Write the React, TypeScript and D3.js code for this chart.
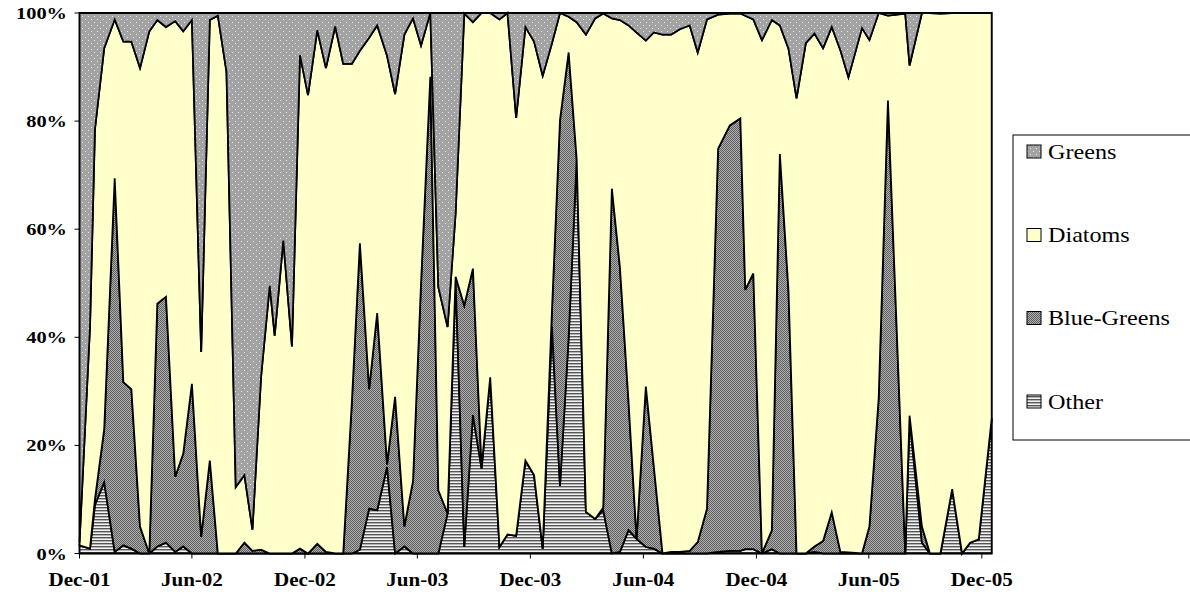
import React from "react";
import * as d3 from "d3";

// Sampling dates (roughly fortnightly)
const sampleDates: string[] = [
  "2001-12-01","2001-12-18","2001-12-26","2002-01-10","2002-01-27","2002-02-10","2002-02-23","2002-03-09","2002-03-24","2002-04-06",
  "2002-04-20","2002-05-05","2002-05-18","2002-06-01","2002-06-16","2002-06-30","2002-07-13","2002-07-27","2002-08-11","2002-08-25",
  "2002-09-07","2002-09-21","2002-10-05","2002-10-13","2002-10-27","2002-11-10","2002-11-23","2002-12-06","2002-12-21","2003-01-04",
  "2003-01-19","2003-02-01","2003-02-15","2003-02-28","2003-03-15","2003-03-28","2003-04-13","2003-04-26","2003-05-11","2003-05-25",
  "2003-06-07","2003-06-22","2003-07-05","2003-07-20","2003-08-02","2003-08-16","2003-08-30","2003-09-13","2003-09-27","2003-10-12",
  "2003-10-25","2003-11-08","2003-11-23","2003-12-07","2003-12-21","2004-01-05","2004-01-18","2004-02-01","2004-02-14","2004-02-29",
  "2004-03-15","2004-03-28","2004-04-11","2004-04-24","2004-05-08","2004-05-21","2004-06-05","2004-06-18","2004-07-02","2004-07-16",
  "2004-07-30","2004-08-15","2004-08-28","2004-09-12","2004-09-30","2004-10-19","2004-11-05","2004-11-13","2004-11-26","2004-12-10",
  "2004-12-26","2005-01-08","2005-01-22","2005-02-04","2005-02-19","2005-03-05","2005-03-19","2005-04-02","2005-04-16","2005-04-29",
  "2005-05-21","2005-06-02","2005-06-17","2005-07-02","2005-07-16","2005-07-30","2005-08-06","2005-08-26","2005-09-08","2005-09-25",
  "2005-10-14","2005-10-30","2005-11-12","2005-11-26","2005-12-17",
];

// Percent of total for each group
const other: number[] = [
  1.5, 0.9, 9, 13.2, 0.3, 1.5, 0.9, 0, 0, 1.3,
  2, 0.3, 1.3, 0, 0, 0, 0, 0, 0, 0,
  0, 0, 0, 0, 0, 0, 0, 0, 0, 0,
  0, 0, 0, 0.7, 8.3, 8, 16, 0, 1.3, 0,
  0, 0, 0, 7.4, 50.5, 1.2, 25.6, 15.7, 32.6, 1.2,
  3.5, 3.3, 17.2, 14.5, 0.9, 42, 12.5, 40, 72.9, 7.7,
  6.4, 8, 0, 0.3, 4.3, 2.7, 1.2, 0.9, 0, 0,
  0, 0, 0, 0, 0.3, 0.5, 0.5, 0.8, 0.8, 0,
  0.8, 0, 0, 0, 0, 0.3, 0, 0, 0, 0,
  0, 0, 0, 0, 0, 0, 25, 2, 0, 0,
  11.9, 0, 2, 2.6, 25,
];

const blueGreens: number[] = [
  0, 0, 1, 9.8, 69.1, 30.2, 29.5, 5, 0, 44.9,
  45.5, 13.9, 17.2, 31.4, 3.1, 17.2, 0, 0, 0, 2,
  0.5, 0.7, 0, 0, 0, 0, 0.9, 0, 1.8, 0.3,
  0, 0, 28, 56.7, 22.1, 36.5, 0.5, 29, 3.7, 13.4,
  50, 88.2, 11.7, 0, 0.7, 44.7, 27.1, 0.3, 0, 0,
  0, 0, 0, 0, 0, 3, 67.7, 52.7, 0.1, 0,
  0, 0.5, 67.5, 52.7, 23.7, 0, 29.7, 15.1, 0, 0.3,
  0.3, 0.5, 2.1, 8.3, 74.6, 78.7, 80, 48, 51, 0,
  3.5, 73.9, 48.5, 0, 0, 1, 2.3, 7.6, 0.3, 0.2,
  0, 5, 28.7, 83.8, 42, 0, 0.5, 3, 0, 0,
  0, 0, 0, 0, 0,
];

const diatoms: number[] = [
  0.5, 41.1, 68.5, 70.5, 29.4, 63, 64.3, 84.8, 96.6, 52.5,
  49.9, 84.3, 78.1, 67.3, 34.2, 81.5, 99.5, 89.1, 12.3, 12.5,
  3.9, 32, 49.5, 40.3, 57.9, 38.3, 91.3, 84.8, 95, 89.5,
  97.5, 90.6, 62.6, 35.6, 65, 53.2, 75.6, 56, 91, 85.6,
  44, 11.8, 37.6, 34.5, 11.8, 54, 45.6, 84, 67.4, 97.6,
  96.5, 77.3, 80.2, 80.2, 87.5, 49.4, 19.8, 6.6, 25.3, 88.3,
  92.6, 91.4, 31.5, 45.7, 69.7, 93.7, 64, 80.4, 96, 95.7,
  96.7, 97.2, 90.6, 90.5, 24.8, 20.7, 19.4, 50.7, 47, 95,
  94.4, 23.8, 44.9, 84.2, 94.4, 94.9, 91.2, 89.8, 92.8, 87.9,
  97.2, 90, 71.3, 15.7, 57.7, 99.9, 64.8, 95, 100, 99.9,
  88.1, 100, 98, 97.4, 75,
];

const greens: number[] = [
  98, 58, 21.5, 6.5, 1.2, 5.3, 5.3, 10.2, 3.4, 1.3,
  2.6, 1.5, 3.4, 1.3, 62.7, 1.3, 0.5, 10.9, 87.7, 85.5,
  95.6, 67.3, 50.5, 59.7, 42.1, 61.7, 7.8, 15.2, 3.2, 10.2,
  2.5, 9.4, 9.4, 7, 4.6, 2.3, 7.9, 15, 4, 1,
  6, 0, 50.7, 58.1, 37, 0.1, 1.7, 0, 0, 1.2,
  0, 19.4, 2.6, 5.3, 11.6, 5.6, 0, 0.7, 1.7, 4,
  1, 0.1, 1, 1.3, 2.3, 3.6, 5.1, 3.6, 4, 4,
  3, 2.3, 7.3, 1.2, 0.3, 0.1, 0.1, 0.5, 1.2, 5,
  1.3, 2.3, 6.6, 15.8, 5.6, 3.8, 6.5, 2.6, 6.9, 11.9,
  2.8, 5, 0, 0.5, 0.3, 0.1, 9.7, 0, 0, 0.1,
  0, 0, 0, 0, 0,
];

const seriesKeys = ["Other", "Blue-Greens", "Diatoms", "Greens"];
const legendOrder = ["Greens", "Diatoms", "Blue-Greens", "Other"];
const yTickValues = [0, 0.2, 0.4, 0.6, 0.8, 1];
const xTickMonthStep = 6;

const W = 1190;
const H = 592;
const plot = { left: 79.5, right: 991.7, top: 13, bottom: 553.5 };

const fills: Record<string, string> = {
  Other: "url(#pOther)",
  "Blue-Greens": "url(#pBG)",
  Diatoms: "#FFFFCC",
  Greens: "url(#pGreens)",
};

const SERIF = "'Liberation Serif', 'Times New Roman', Times, serif";

function StretchText(props: {
  x: number; y: number; sx: number; anchor?: string; size: number; bold?: boolean; children: React.ReactNode;
}) {
  const { x, y, sx, anchor = "start", size, bold, children } = props;
  return (
    <g transform={`translate(${x},${y}) scale(${sx},1)`}>
      <text
        x={0}
        y={0}
        textAnchor={anchor as any}
        fontFamily={SERIF}
        fontSize={size}
        fontWeight={bold ? "bold" : "normal"}
        fill="#000"
      >
        {children}
      </text>
    </g>
  );
}

export default function App() {
  const parse = d3.timeParse("%Y-%m-%d");
  const rows = sampleDates.map((s, i) => ({
    date: parse(s) as Date,
    Other: other[i],
    "Blue-Greens": blueGreens[i],
    Diatoms: diatoms[i],
    Greens: greens[i],
  }));

  const stack = d3.stack<any>().keys(seriesKeys).offset(d3.stackOffsetExpand);
  const layers = stack(rows);

  const x = d3
    .scaleTime()
    .domain(d3.extent(rows, (r) => r.date) as [Date, Date])
    .range([plot.left, plot.right]);
  const y = d3.scaleLinear().domain([0, 1]).range([plot.bottom, plot.top]);

  const area = d3
    .area<any>()
    .x((d) => x(d.data.date))
    .y0((d) => y(d[0]))
    .y1((d) => y(d[1]));

  const start = rows[0].date;
  const end = rows[rows.length - 1].date;
  const xTicks: Date[] = [];
  for (let k = 0; ; k++) {
    const t = d3.timeMonth.offset(start, k * xTickMonthStep);
    if (t > end) break;
    xTicks.push(t);
  }
  const fmt = d3.timeFormat("%b-%y");
  const pct = d3.format(".0%");

  const legendY = [151.5, 235, 318, 401.5];

  return (
    <svg
      width={W}
      height={H}
      style={{ position: "absolute", left: 0, top: 0, background: "#fff" }}
    >
      <defs>
        <pattern id="pGreens" width="6" height="6" patternUnits="userSpaceOnUse">
          <rect width="6" height="6" fill="#a3a3a3" />
          <rect x="1" y="1" width="1" height="1" fill="#e8e8e8" />
          <rect x="4" y="4" width="1" height="1" fill="#e8e8e8" />
        </pattern>
        <pattern id="pBG" width="2" height="2" patternUnits="userSpaceOnUse">
          <rect width="2" height="2" fill="#b0b0b0" />
          <rect x="0" y="0" width="1" height="1" fill="#5e5e5e" />
          <rect x="1" y="1" width="1" height="1" fill="#5e5e5e" />
        </pattern>
        <pattern id="pOther" width="3" height="3" patternUnits="userSpaceOnUse">
          <rect width="3" height="3" fill="#f2f2f2" />
          <rect x="0" y="0" width="3" height="1.4" fill="#555" />
        </pattern>
      </defs>

      <rect x={0} y={0} width={W} height={H} fill="#fff" />

      <g>
        {layers.map((layer) => (
          <path
            key={layer.key}
            d={area(layer) || ""}
            fill={fills[layer.key]}
            stroke="#000"
            strokeWidth={1.8}
            strokeLinejoin="miter"
          />
        ))}
      </g>

      {/* plot frame */}
      <rect
        x={plot.left}
        y={plot.top}
        width={plot.right - plot.left}
        height={plot.bottom - plot.top}
        fill="none"
        stroke="#000"
        strokeWidth={1.2}
      />

      {/* y axis */}
      {yTickValues.map((v) => (
        <g key={v}>
          <line x1={plot.left - 5} x2={plot.left} y1={y(v)} y2={y(v)} stroke="#000" strokeWidth={1} />
          <StretchText x={67} y={y(v) + 6} sx={1.2} anchor="end" size={17} bold>
            {pct(v)}
          </StretchText>
        </g>
      ))}

      {/* x axis */}
      {xTicks.map((t, i) => (
        <g key={i}>
          <line x1={x(t)} x2={x(t)} y1={plot.bottom} y2={plot.bottom + 5} stroke="#000" strokeWidth={1} />
          <StretchText x={x(t)} y={586} sx={1.08} anchor="middle" size={19.5} bold>
            {fmt(t)}
          </StretchText>
        </g>
      ))}

      {/* legend */}
      <rect x={1013} y={135} width={190} height={305} fill="#fff" stroke="#000" strokeWidth={1} />
      {legendOrder.map((k, i) => (
        <g key={k}>
          <rect
            x={1027}
            y={legendY[i] - 6.5}
            width={14}
            height={13}
            fill={fills[k]}
            stroke="#000"
            strokeWidth={1}
          />
          <StretchText x={1048} y={legendY[i] + 7} sx={1.15} size={21}>
            {k}
          </StretchText>
        </g>
      ))}
    </svg>
  );
}
